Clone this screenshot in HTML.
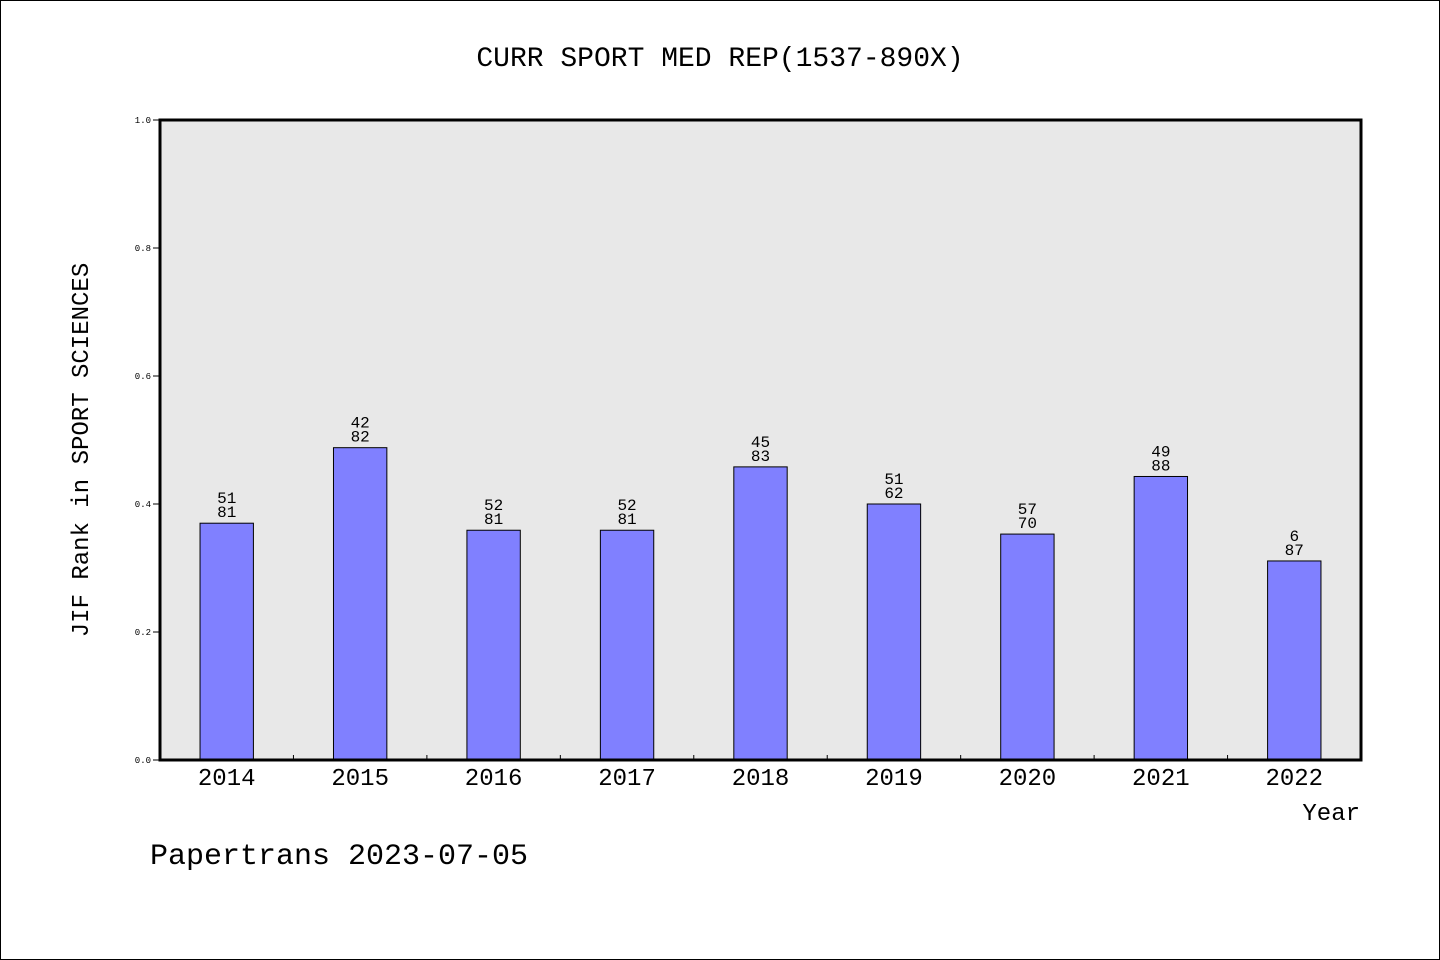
<!DOCTYPE html>
<html><head><meta charset="utf-8"><style>
html,body{margin:0;padding:0;background:#fff}
svg{display:block}
text{font-family:"WenQuanYi Zen Hei","Liberation Mono",monospace;fill:#000}
</style></head><body>
<svg id="chart" width="1440" height="960">
<rect x="0.5" y="0.5" width="1439" height="959" fill="#fff" stroke="#000"/>
<text x="720" y="66" text-anchor="middle" font-size="28">CURR SPORT MED REP(1537-890X)</text>
<rect x="160" y="120" width="1201" height="640" fill="#e8e8e8"/>
<g id="ygrid"></g>
<g id="bars"></g>
<rect x="160" y="120" width="1201" height="640" fill="none" stroke="#000" stroke-width="3"/>
<text transform="translate(88,450) rotate(-90)" text-anchor="middle" font-size="24">JIF Rank in SPORT SCIENCES</text>
<text x="1360" y="820" text-anchor="end" font-size="24">Year</text>
<text x="150" y="864" font-size="30">Papertrans 2023-07-05</text>
</svg>
<script>
const years=["2014","2015","2016","2017","2018","2019","2020","2021","2022"];
const values=[0.37,0.488,0.359,0.359,0.458,0.40,0.353,0.443,0.311];
const ranks=[51,42,52,52,45,51,57,49,6];
const totals=[81,82,81,81,83,62,70,88,87];
const yTicks=[0,0.2,0.4,0.6,0.8,1.0];
const yTickLabels=["0.0","0.2","0.4","0.6","0.8","1.0"];
const L=160,R=1361,T=120,B=760;
const ys=v=>B-(B-T)*v;
const band=(R-L)/years.length;
const xc=i=>L+band*(i+0.5);
const NS="http://www.w3.org/2000/svg";
const mk=(t,a,p)=>{const e=document.createElementNS(NS,t);for(const k in a)e.setAttribute(k,a[k]);p.appendChild(e);return e;};
const yg=document.getElementById('ygrid');
yTicks.forEach((v,i)=>{
 const l=mk('line',{x1:L-7,x2:L,y1:ys(v),y2:ys(v),stroke:'#000'},yg);
 
 
 const t=mk('text',{x:L-9,y:ys(v)+3,'text-anchor':'end','font-size':9},yg);
 t.textContent=yTickLabels[i];
 
 
});
const bg=document.getElementById('bars');
for(let i=1;i<years.length;i++){
 const l=mk('line',{x1:L+band*i,x2:L+band*i,y1:B-5,y2:B,stroke:'#000'},bg);
 
 
}
years.forEach((y,i)=>{
 const v=values[i];
 const w=band*0.4;
 const r=mk('rect',{x:xc(i)-w/2,y:ys(v),width:w,height:B-ys(v),fill:'#8080ff',stroke:'#000','stroke-width':1},bg);
 
 
 const t1=mk('text',{x:xc(i),y:ys(v)-20,'text-anchor':'middle','font-size':16},bg);
 t1.textContent=ranks[i];
 
 
 const t2=mk('text',{x:xc(i),y:ys(v)-6,'text-anchor':'middle','font-size':16},bg);
 t2.textContent=totals[i];
 
 
 const xl=mk('text',{x:xc(i),y:785,'text-anchor':'middle','font-size':24},bg);
 xl.textContent=y;
 
 
});
</script>
</body></html>
